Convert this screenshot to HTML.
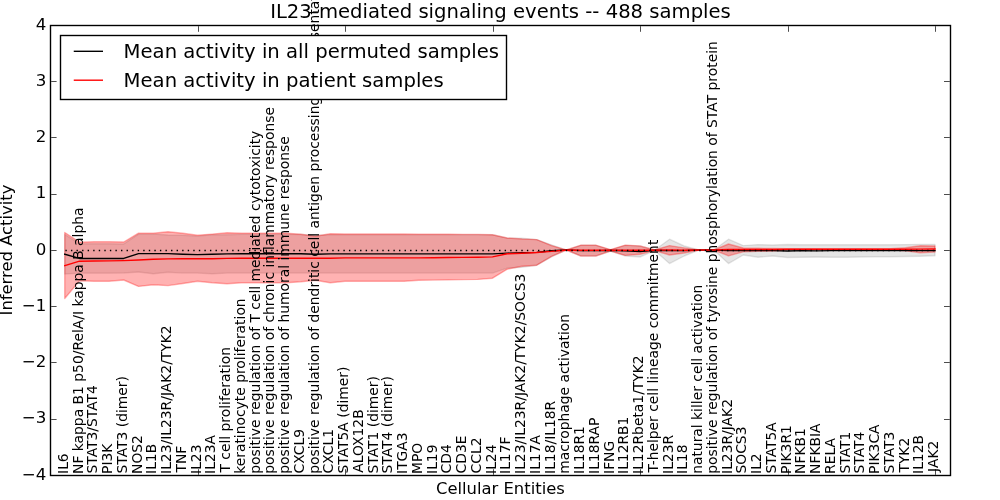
<!DOCTYPE html>
<html lang="en">
<head>
<meta charset="utf-8">
<title>IL23-mediated signaling events -- 488 samples</title>
<style>
html,body{margin:0;padding:0;background:#fff;}
body{width:1000px;height:500px;overflow:hidden;}
svg{display:block;font-family:"DejaVu Sans","Liberation Sans",sans-serif;fill:#000;}
.lab text{font-size:13.865px;}
.yt text{font-size:16.67px;}
.big{font-size:19.61px;}
.leg{font-size:19.64px;}
.ax{font-size:16.4px;}
</style>
</head>
<body>
<svg width="1000" height="500" viewBox="0 0 1000 500">
<rect x="0" y="0" width="1000" height="500" fill="#fff"/>
<g id="bands">
<polygon points="64.75,234.40 79.50,243.75 94.25,243.75 109.00,243.75 123.75,243.95 138.50,234.10 153.25,234.10 168.00,235.00 182.75,235.30 197.50,236.10 212.25,234.70 227.00,234.70 241.75,234.30 256.50,234.30 271.25,234.30 286.00,234.30 300.75,234.50 315.50,235.30 330.25,234.70 345.00,234.70 359.75,234.70 374.50,234.70 389.25,234.70 404.00,234.70 418.75,234.70 433.50,234.70 448.25,234.70 463.00,234.70 477.75,234.70 492.50,234.70 507.25,238.10 522.00,238.20 536.75,239.60 551.50,244.80 566.25,250.00 581.00,245.30 595.75,245.30 610.50,249.80 625.25,245.40 640.00,246.00 654.75,250.00 669.50,239.20 684.25,246.00 699.00,250.00 713.75,250.00 728.50,239.20 743.25,245.60 758.00,244.60 772.75,245.00 787.50,244.50 802.25,244.70 817.00,244.80 831.75,244.70 846.50,244.70 861.25,244.70 876.00,244.70 890.75,244.70 905.50,244.60 920.25,244.40 935.00,244.40 935.00,255.80 920.25,256.20 905.50,256.50 890.75,256.80 876.00,256.80 861.25,257.00 846.50,257.30 831.75,257.30 817.00,257.00 802.25,257.30 787.50,257.50 772.75,256.00 758.00,257.20 743.25,255.00 728.50,263.60 713.75,250.00 699.00,250.00 684.25,256.00 669.50,263.60 654.75,250.60 640.00,257.00 625.25,256.00 610.50,251.00 595.75,256.00 581.00,256.00 566.25,250.00 551.50,256.80 536.75,265.20 522.00,267.20 507.25,268.10 492.50,273.10 477.75,273.10 463.00,273.10 448.25,273.10 433.50,273.10 418.75,273.10 404.00,273.10 389.25,273.10 374.50,273.10 359.75,273.10 345.00,273.10 330.25,273.10 315.50,273.10 300.75,273.10 286.00,273.10 271.25,273.10 256.50,273.10 241.75,273.10 227.00,273.10 212.25,273.70 197.50,273.10 182.75,273.10 168.00,272.20 153.25,273.70 138.50,272.00 123.75,272.95 109.00,273.15 94.25,273.15 79.50,273.15 64.75,274.00" fill="#000" fill-opacity="0.1" stroke="#000" stroke-opacity="0.1" stroke-width="1.39" stroke-linejoin="round"/>
<polygon points="64.75,232.50 79.50,242.20 94.25,241.80 109.00,241.80 123.75,242.00 138.50,233.20 153.25,233.30 168.00,231.80 182.75,233.30 197.50,235.20 212.25,234.10 227.00,232.80 241.75,233.30 256.50,233.30 271.25,233.30 286.00,233.30 300.75,234.30 315.50,236.20 330.25,233.70 345.00,234.00 359.75,234.00 374.50,234.00 389.25,234.00 404.00,234.00 418.75,234.30 433.50,234.30 448.25,234.30 463.00,234.40 477.75,234.40 492.50,234.80 507.25,238.00 522.00,239.00 536.75,239.60 551.50,245.60 566.25,250.00 581.00,245.10 595.75,245.10 610.50,249.60 625.25,245.10 640.00,245.90 654.75,250.00 669.50,245.60 684.25,247.90 699.00,250.00 713.75,250.00 728.50,244.00 743.25,248.00 758.00,248.30 772.75,248.50 787.50,248.80 802.25,248.80 817.00,248.80 831.75,248.80 846.50,248.80 861.25,248.80 876.00,248.80 890.75,248.80 905.50,247.80 920.25,245.70 935.00,246.00 935.00,252.00 920.25,252.70 905.50,250.80 890.75,249.90 876.00,249.90 861.25,249.90 846.50,249.90 831.75,249.90 817.00,249.90 802.25,249.90 787.50,249.90 772.75,251.00 758.00,251.30 743.25,251.80 728.50,255.80 713.75,250.00 699.00,250.00 684.25,253.00 669.50,255.00 654.75,250.60 640.00,254.20 625.25,255.40 610.50,251.00 595.75,256.10 581.00,256.10 566.25,250.00 551.50,256.40 536.75,265.20 522.00,266.30 507.25,269.20 492.50,278.20 477.75,279.40 463.00,279.60 448.25,279.90 433.50,280.10 418.75,280.30 404.00,281.20 389.25,281.20 374.50,281.20 359.75,281.20 345.00,281.20 330.25,282.70 315.50,280.20 300.75,281.70 286.00,282.70 271.25,282.70 256.50,282.70 241.75,282.70 227.00,283.80 212.25,282.70 197.50,281.20 182.75,283.50 168.00,285.60 153.25,284.70 138.50,286.40 123.75,280.00 109.00,281.20 94.25,281.20 79.50,280.80 64.75,298.50" fill="#f00" fill-opacity="0.3" stroke="#f00" stroke-opacity="0.3" stroke-width="1.39" stroke-linejoin="round"/>
</g>
<g id="lines" fill="none">
<polyline points="64.75,254.20 79.50,258.45 94.25,258.45 109.00,258.45 123.75,258.45 138.50,253.60 153.25,253.60 168.00,253.60 182.75,254.20 197.50,254.60 212.25,254.20 227.00,253.90 241.75,253.70 256.50,253.70 271.25,253.70 286.00,253.70 300.75,253.80 315.50,254.20 330.25,253.90 345.00,253.90 359.75,253.90 374.50,253.90 389.25,253.90 404.00,253.90 418.75,253.90 433.50,253.90 448.25,253.90 463.00,253.90 477.75,253.90 492.50,253.90 507.25,253.10 522.00,252.70 536.75,252.40 551.50,250.80 566.25,250.00 581.00,250.65 595.75,250.65 610.50,250.40 625.25,250.70 640.00,251.50 654.75,250.30 669.50,250.60 684.25,250.60 699.00,250.00 713.75,250.00 728.50,250.60 743.25,250.60 758.00,250.60 772.75,250.60 787.50,251.00 802.25,250.60 817.00,250.90 831.75,250.60 846.50,250.60 861.25,250.60 876.00,250.60 890.75,250.60 905.50,250.60 920.25,250.60 935.00,250.60" stroke="#000" stroke-width="1.39" stroke-linejoin="round" stroke-linecap="square"/>
<polyline points="64.75,265.60 79.50,261.20 94.25,261.00 109.00,260.90 123.75,260.60 138.50,260.00 153.25,259.30 168.00,258.90 182.75,258.70 197.50,258.70 212.25,258.70 227.00,258.40 241.75,258.20 256.50,258.20 271.25,258.20 286.00,258.20 300.75,258.20 315.50,258.20 330.25,258.20 345.00,257.90 359.75,257.90 374.50,257.90 389.25,257.90 404.00,257.90 418.75,257.90 433.50,257.70 448.25,257.50 463.00,257.40 477.75,257.20 492.50,256.90 507.25,253.80 522.00,253.20 536.75,252.50 551.50,251.40 566.25,250.00 581.00,250.30 595.75,250.30 610.50,250.30 625.25,250.30 640.00,250.30 654.75,250.30 669.50,249.90 684.25,250.20 699.00,250.00 713.75,250.00 728.50,249.50 743.25,249.50 758.00,249.50 772.75,249.50 787.50,249.30 802.25,249.30 817.00,249.30 831.75,249.30 846.50,249.30 861.25,249.30 876.00,249.30 890.75,249.30 905.50,249.30 920.25,249.10 935.00,249.00" stroke="#f00" stroke-width="1.39" stroke-linejoin="round" stroke-linecap="square"/>
<path d="M65.4 250.5H935" stroke="#000" stroke-width="1.39" stroke-dasharray="1.39 4.17"/>
</g>
<g class="lab">
<text transform="translate(68.00,473.96) rotate(-90)">IL6</text>
<text transform="translate(83.00,473.96) rotate(-90)">NF kappa B1 p50/RelA/I kappa B alpha</text>
<text transform="translate(97.00,473.52) rotate(-90)">STAT3/STAT4</text>
<text transform="translate(112.00,473.96) rotate(-90)">PI3K</text>
<text transform="translate(127.00,473.52) rotate(-90)">STAT3 (dimer)</text>
<text transform="translate(142.00,473.96) rotate(-90)">NOS2</text>
<text transform="translate(156.00,473.96) rotate(-90)">IL1B</text>
<text transform="translate(171.00,473.96) rotate(-90)">IL23/IL23R/JAK2/TYK2</text>
<text transform="translate(186.00,472.56) rotate(-90)">TNF</text>
<text transform="translate(201.00,473.96) rotate(-90)">IL23</text>
<text transform="translate(215.00,473.96) rotate(-90)">IL23A</text>
<text transform="translate(230.00,472.56) rotate(-90)">T cell proliferation</text>
<text transform="translate(245.00,473.86) rotate(-90)">keratinocyte proliferation</text>
<text transform="translate(260.00,473.86) rotate(-90)">positive regulation of T cell mediated cytotoxicity</text>
<text transform="translate(274.00,473.86) rotate(-90)">positive regulation of chronic inflammatory response</text>
<text transform="translate(289.00,473.86) rotate(-90)">positive regulation of humoral immune response</text>
<text transform="translate(304.00,473.38) rotate(-90)">CXCL9</text>
<text transform="translate(319.00,473.86) rotate(-90)">positive regulation of dendritic cell antigen processing and presentation</text>
<text transform="translate(333.00,473.38) rotate(-90)">CXCL1</text>
<text transform="translate(348.00,473.52) rotate(-90)">STAT5A (dimer)</text>
<text transform="translate(363.00,472.71) rotate(-90)">ALOX12B</text>
<text transform="translate(378.00,473.52) rotate(-90)">STAT1 (dimer)</text>
<text transform="translate(392.00,473.52) rotate(-90)">STAT4 (dimer)</text>
<text transform="translate(407.00,473.96) rotate(-90)">ITGA3</text>
<text transform="translate(422.00,473.96) rotate(-90)">MPO</text>
<text transform="translate(437.00,473.96) rotate(-90)">IL19</text>
<text transform="translate(451.00,473.38) rotate(-90)">CD4</text>
<text transform="translate(466.00,473.38) rotate(-90)">CD3E</text>
<text transform="translate(481.00,473.38) rotate(-90)">CCL2</text>
<text transform="translate(496.00,473.96) rotate(-90)">IL24</text>
<text transform="translate(510.00,473.96) rotate(-90)">IL17F</text>
<text transform="translate(525.00,473.96) rotate(-90)">IL23/IL23R/JAK2/TYK2/SOCS3</text>
<text transform="translate(540.00,473.96) rotate(-90)">IL17A</text>
<text transform="translate(555.00,473.96) rotate(-90)">IL18/IL18R</text>
<text transform="translate(569.00,473.86) rotate(-90)">macrophage activation</text>
<text transform="translate(584.00,473.96) rotate(-90)">IL18R1</text>
<text transform="translate(599.00,473.96) rotate(-90)">IL18RAP</text>
<text transform="translate(614.00,473.96) rotate(-90)">IFNG</text>
<text transform="translate(628.00,473.96) rotate(-90)">IL12RB1</text>
<text transform="translate(643.00,473.96) rotate(-90)">IL12Rbeta1/TYK2</text>
<text transform="translate(658.00,472.56) rotate(-90)">T-helper cell lineage commitment</text>
<text transform="translate(673.00,473.96) rotate(-90)">IL23R</text>
<text transform="translate(687.00,473.96) rotate(-90)">IL18</text>
<text transform="translate(702.00,473.86) rotate(-90)">natural killer cell activation</text>
<text transform="translate(717.00,473.86) rotate(-90)">positive regulation of tyrosine phosphorylation of STAT protein</text>
<text transform="translate(732.00,473.96) rotate(-90)">IL23R/JAK2</text>
<text transform="translate(746.00,473.52) rotate(-90)">SOCS3</text>
<text transform="translate(761.00,473.96) rotate(-90)">IL2</text>
<text transform="translate(776.00,473.52) rotate(-90)">STAT5A</text>
<text transform="translate(791.00,473.96) rotate(-90)">PIK3R1</text>
<text transform="translate(805.00,473.96) rotate(-90)">NFKB1</text>
<text transform="translate(820.00,473.96) rotate(-90)">NFKBIA</text>
<text transform="translate(835.00,473.96) rotate(-90)">RELA</text>
<text transform="translate(850.00,473.52) rotate(-90)">STAT1</text>
<text transform="translate(864.00,473.52) rotate(-90)">STAT4</text>
<text transform="translate(879.00,473.96) rotate(-90)">PIK3CA</text>
<text transform="translate(894.00,473.52) rotate(-90)">STAT3</text>
<text transform="translate(909.00,472.56) rotate(-90)">TYK2</text>
<text transform="translate(923.00,473.96) rotate(-90)">IL12B</text>
<text transform="translate(938.00,471.88) rotate(-90)">JAK2</text>
</g>
<g id="axes" fill="none" stroke="#000">
<rect x="50.5" y="25.5" width="900" height="450" stroke-width="1.39"/>
<path d="M50.50 474.8v-5.6M50.50 26.2v5.6M198.50 474.8v-5.6M198.50 26.2v5.6M345.50 474.8v-5.6M345.50 26.2v5.6M493.50 474.8v-5.6M493.50 26.2v5.6M640.50 474.8v-5.6M640.50 26.2v5.6M788.50 474.8v-5.6M788.50 26.2v5.6M935.50 474.8v-5.6M935.50 26.2v5.6M51.2 25.50h5.4M949.8 25.50h-5.8M51.2 81.50h5.4M949.8 81.50h-5.8M51.2 137.50h5.4M949.8 137.50h-5.8M51.2 194.50h5.4M949.8 194.50h-5.8M51.2 250.50h5.4M949.8 250.50h-5.8M51.2 306.50h5.4M949.8 306.50h-5.8M51.2 362.50h5.4M949.8 362.50h-5.8M51.2 419.50h5.4M949.8 419.50h-5.8M51.2 475.50h5.4M949.8 475.50h-5.8" stroke-width="0.7"/>
</g>
<g class="yt">
<text x="46.3" y="29.50" text-anchor="end">4</text>
<text x="46.3" y="85.75" text-anchor="end">3</text>
<text x="46.3" y="142.00" text-anchor="end">2</text>
<text x="46.3" y="198.25" text-anchor="end">1</text>
<text x="46.3" y="254.50" text-anchor="end">0</text>
<text x="46.3" y="310.75" text-anchor="end">−1</text>
<text x="46.3" y="367.00" text-anchor="end">−2</text>
<text x="46.3" y="423.25" text-anchor="end">−3</text>
<text x="46.3" y="479.50" text-anchor="end">−4</text>
</g>
<text class="big" x="500.5" y="17.9" text-anchor="middle">IL23-mediated signaling events -- 488 samples</text>
<text class="ax" x="500.4" y="494" text-anchor="middle">Cellular Entities</text>
<text class="ax" transform="translate(12.2,250) rotate(-90)" text-anchor="middle">Inferred Activity</text>
<g id="legend">
<rect x="60.5" y="35.5" width="446" height="64" fill="#fff" stroke="#000" stroke-width="1.39"/>
<path d="M73.75 51.3H103" stroke="#000" stroke-width="1.39"/>
<path d="M73.75 80.2H103" stroke="#f00" stroke-width="1.39"/>
<text class="leg" x="123.6" y="57.9">Mean activity in all permuted samples</text>
<text class="leg" x="123.6" y="86.7">Mean activity in patient samples</text>
</g>
</svg>
</body>
</html>
